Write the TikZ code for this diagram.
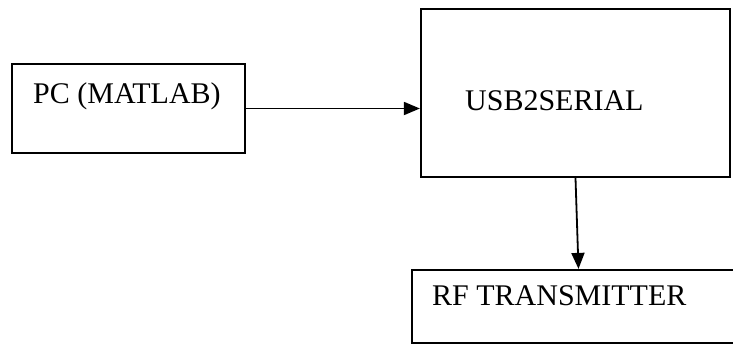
\documentclass[tikz,border=0pt]{standalone}
\usepackage{fontspec}
\setmainfont{Liberation Serif}
\usetikzlibrary{arrows.meta,calc}

\begin{document}
\begin{tikzpicture}[x=1pt,y=-1pt]
      \tikzset{block/.style={draw,
          line width=2.2pt,
          inner sep=0pt,
          minimum width=#1},
        caption/.style={anchor=base west,
          inner sep=0pt,
          font=\fontsize{30}{35}\selectfont},
        flow/.style={line width=1.8pt,
          -{Triangle[length=16pt,width=13pt]}}
      }
      \useasboundingbox (0,0) rectangle (733,345);
      \node [block=233pt,minimum height=89pt] (pc) at (128.5,108.5) {};
      \node [block=309pt,minimum height=168pt] (usb) at (575.5,93) {};
      \node [block=333pt,minimum height=73pt] (rf) at (578.5,306.5) {};
      \node [caption] (pctext) at (33,103) {PC (MATLAB)};
      \node [caption] (usbtext) at (465,110) {USB2SERIAL};
      \node [caption] (rftext) at (432,305) {RF TRANSMITTER};
      \draw [flow] (pc.east)--(pc.east -| usb.west);
      \draw [flow] (usb.south)--(rf.north);
    \end{tikzpicture}
\end{document}
